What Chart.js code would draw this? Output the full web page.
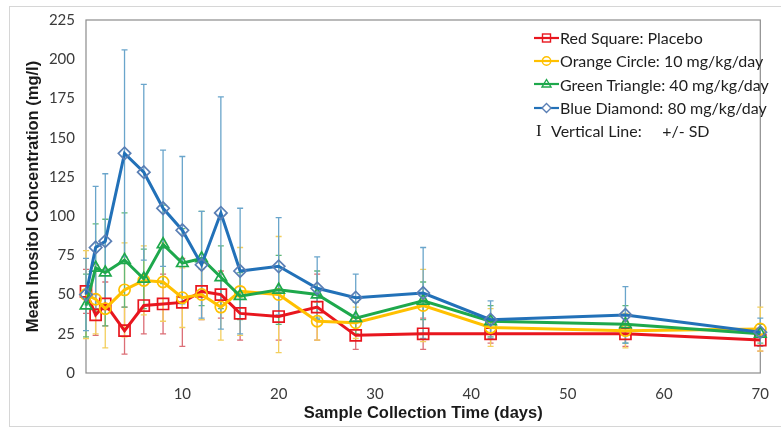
<!DOCTYPE html>
<html>
<head>
<meta charset="utf-8">
<script src="https://cdn.jsdelivr.net/npm/chart.js@4.4.1/dist/chart.umd.min.js"></script>
<style>
  html, body { margin: 0; padding: 0; background: #fff; }
  #wrap { position: relative; width: 781px; height: 430px; }
  #legend {
    position: absolute; left: 534px; top: 26px;
    font-family: Lato, "Liberation Sans", sans-serif; font-size: 16px; color: #1e1e1e;
  }
  #legend .row { height: 23.3px; display: flex; align-items: center; white-space: pre; }
  #legend svg { width: 25px; height: 14px; margin-right: 1px; flex: none; }
  #legend .bar { font-family: "Liberation Serif", "DejaVu Serif", serif; font-size: 17px; width: 15px; padding-left: 2px; }
</style>
</head>
<body>
<div id="wrap">
  <canvas id="chart" width="781" height="430"></canvas>
  <div id="legend">
    <div class="row"><svg viewBox="0 0 25 14"><line x1="0" y1="7" x2="25" y2="7" stroke="#e8161e" stroke-width="2.2"/><rect x="8.5" y="3" width="8" height="8" fill="none" stroke="#e8161e" stroke-width="1.4"/></svg>Red Square: Placebo</div>
    <div class="row"><svg viewBox="0 0 25 14"><line x1="0" y1="7" x2="25" y2="7" stroke="#ffc000" stroke-width="2.2"/><circle cx="12.5" cy="7" r="4.2" fill="none" stroke="#ffc000" stroke-width="1.4"/></svg>Orange Circle: 10 mg/kg/day</div>
    <div class="row"><svg viewBox="0 0 25 14"><line x1="0" y1="7" x2="25" y2="7" stroke="#1ea84c" stroke-width="2.2"/><polygon points="12.5,2.5 17,10 8,10" fill="none" stroke="#1ea84c" stroke-width="1.4"/></svg>Green Triangle: 40 mg/kg/day</div>
    <div class="row"><svg viewBox="0 0 25 14"><line x1="0" y1="7" x2="25" y2="7" stroke="#2271b8" stroke-width="2.2"/><polygon points="12.5,2.5 17,7 12.5,11.5 8,7" fill="#fff" stroke="#5a7fb5" stroke-width="1.4"/></svg>Blue Diamond: 80 mg/kg/day</div>
    <div class="row"><span class="bar">I</span><span>Vertical Line:     +/- SD</span></div>
  </div>
</div>
<script>
// ── DATA ──────────────────────────────────────────────
const days = [0, 1, 2, 4, 6, 8, 10, 12, 14, 16, 20, 24, 28, 35, 42, 56, 70];

const placebo   = [52, 37, 44, 27, 43, 44, 45, 52, 50, 38, 36, 42, 24, 25, 25, 25, 21];
const placeboSD = [14, 13, 14, 15, 18, 19, 28, 18, 15, 17, 15, 21, 9, 10, 6, 8, 7];

const dose10    = [50, 47, 41, 53, 59, 58, 48, 50, 42, 52, 50, 33, 32, 43, 29, 27, 28];
const dose10SD  = [28, 22, 25, 30, 22, 25, 19, 16, 21, 28, 37, 12, 10, 23, 12, 11, 14];

const dose40    = [43, 67, 64, 72, 60, 82, 70, 73, 61, 49, 53, 50, 35, 46, 33, 31, 25];
const dose40SD  = [20, 28, 34, 30, 19, 25, 22, 30, 20, 15, 22, 15, 10, 12, 10, 12, 6];

const dose80    = [50, 80, 84, 140, 128, 105, 91, 69, 102, 65, 68, 54, 48, 51, 34, 37, 26];
const dose80SD  = [23, 39, 43, 66, 56, 37, 47, 34, 74, 40, 31, 20, 15, 29, 12, 18, 9];

const seriesLabels = ["Red Square: Placebo", "Orange Circle: 10 mg/kg/day",
                      "Green Triangle: 40 mg/kg/day", "Blue Diamond: 80 mg/kg/day"];

// ── STYLES ────────────────────────────────────────────
const lineColors   = ["#e8161e", "#ffc000", "#1ea84c", "#2271b8"];
const markerColors = ["#e8161e", "#ffc000", "#1ea84c", "#5a7fb5"];
const errColors    = ["#dc6e76", "#f3cf5e", "#62b878", "#6aa5cb"];
const markers      = ["rect", "circle", "triangle", "rectRot"];
const radii        = [7.8, 5.6, 6.6, 6.2];

const means = [placebo, dose10, dose40, dose80];
const sds   = [placeboSD, dose10SD, dose40SD, dose80SD];

const datasets = means.map((vals, i) => ({
  label: seriesLabels[i],
  data: vals.map((v, j) => ({ x: days[j], y: v })),
  borderColor: lineColors[i],
  borderWidth: 3,
  tension: 0,
  pointStyle: markers[i],
  pointRadius: radii[i],
  pointBorderWidth: 1.7,
  pointBorderColor: markerColors[i],
  pointBackgroundColor: "rgba(255,255,255,0)",
  clip: false,
  order: 3 - i,
}));

// ── PLUGINS ───────────────────────────────────────────
const frame = {
  id: "frame",
  beforeDraw(chart) {
    const ctx = chart.ctx;
    ctx.save();
    ctx.strokeStyle = "#d6d6d6";
    ctx.lineWidth = 1;
    ctx.strokeRect(9.5, 6.5, 800, 420);
    ctx.restore();
  },
  beforeDatasetsDraw(chart) {
    const { ctx, chartArea: a } = chart;
    ctx.save();
    ctx.strokeStyle = "#8c8c8c";
    ctx.lineWidth = 1.2;
    ctx.strokeRect(a.left, a.top, a.right - a.left, a.bottom - a.top);
    ctx.restore();
  },
};

const errorBars = {
  id: "errorBars",
  beforeDatasetsDraw(chart) {
    const { ctx, scales: { x, y } } = chart;
    ctx.save();
    ctx.lineWidth = 1.3;
    means.forEach((vals, i) => {
      ctx.strokeStyle = errColors[i];
      vals.forEach((v, j) => {
        const px = x.getPixelForValue(days[j]);
        const top = y.getPixelForValue(v + sds[i][j]);
        const bot = y.getPixelForValue(Math.max(0, v - sds[i][j]));
        ctx.beginPath();
        ctx.moveTo(px, top); ctx.lineTo(px, bot);
        ctx.moveTo(px - 3, top); ctx.lineTo(px + 3, top);
        ctx.moveTo(px - 3, bot); ctx.lineTo(px + 3, bot);
        ctx.stroke();
      });
    });
    ctx.restore();
  },
};

// ── CHART ─────────────────────────────────────────────
const tickFont = { family: "Lato, 'Liberation Sans', sans-serif", size: 15 };
const titleFont = { family: "'Liberation Sans', Arial, sans-serif", size: 16.5, weight: "bold" };

new Chart(document.getElementById("chart"), {
  type: "line",
  data: { datasets },
  plugins: [frame, errorBars],
  options: {
    responsive: false,
    animation: false,
    layout: { padding: { left: 0, right: 12, top: 20, bottom: 0 } },
    plugins: { legend: { display: false }, tooltip: { enabled: false } },
    scales: {
      x: {
        type: "linear", min: 0, max: 70,
        grid: { display: false, drawTicks: false },
        border: { display: false },
        ticks: { stepSize: 10, padding: 12, color: "#3a3a3a", font: tickFont,
                 callback: v => (v === 0 ? "" : v) },
        title: { display: true, text: "Sample Collection Time (days)", color: "#1a1a1a",
                 font: titleFont, padding: { top: 0, bottom: 7 } },
        afterFit: s => { s.height = 57; },
      },
      y: {
        min: 0, max: 225,
        grid: { display: false, drawTicks: false },
        border: { display: false },
        ticks: { stepSize: 25, padding: 11, color: "#3a3a3a", font: tickFont },
        title: { display: true, text: "Mean Inositol Concentration (mg/l)", color: "#1a1a1a",
                 font: titleFont, padding: { top: 24, bottom: 0 } },
        afterFit: s => { s.width = 86; },
      },
    },
  },
});
</script>
</body>
</html>
